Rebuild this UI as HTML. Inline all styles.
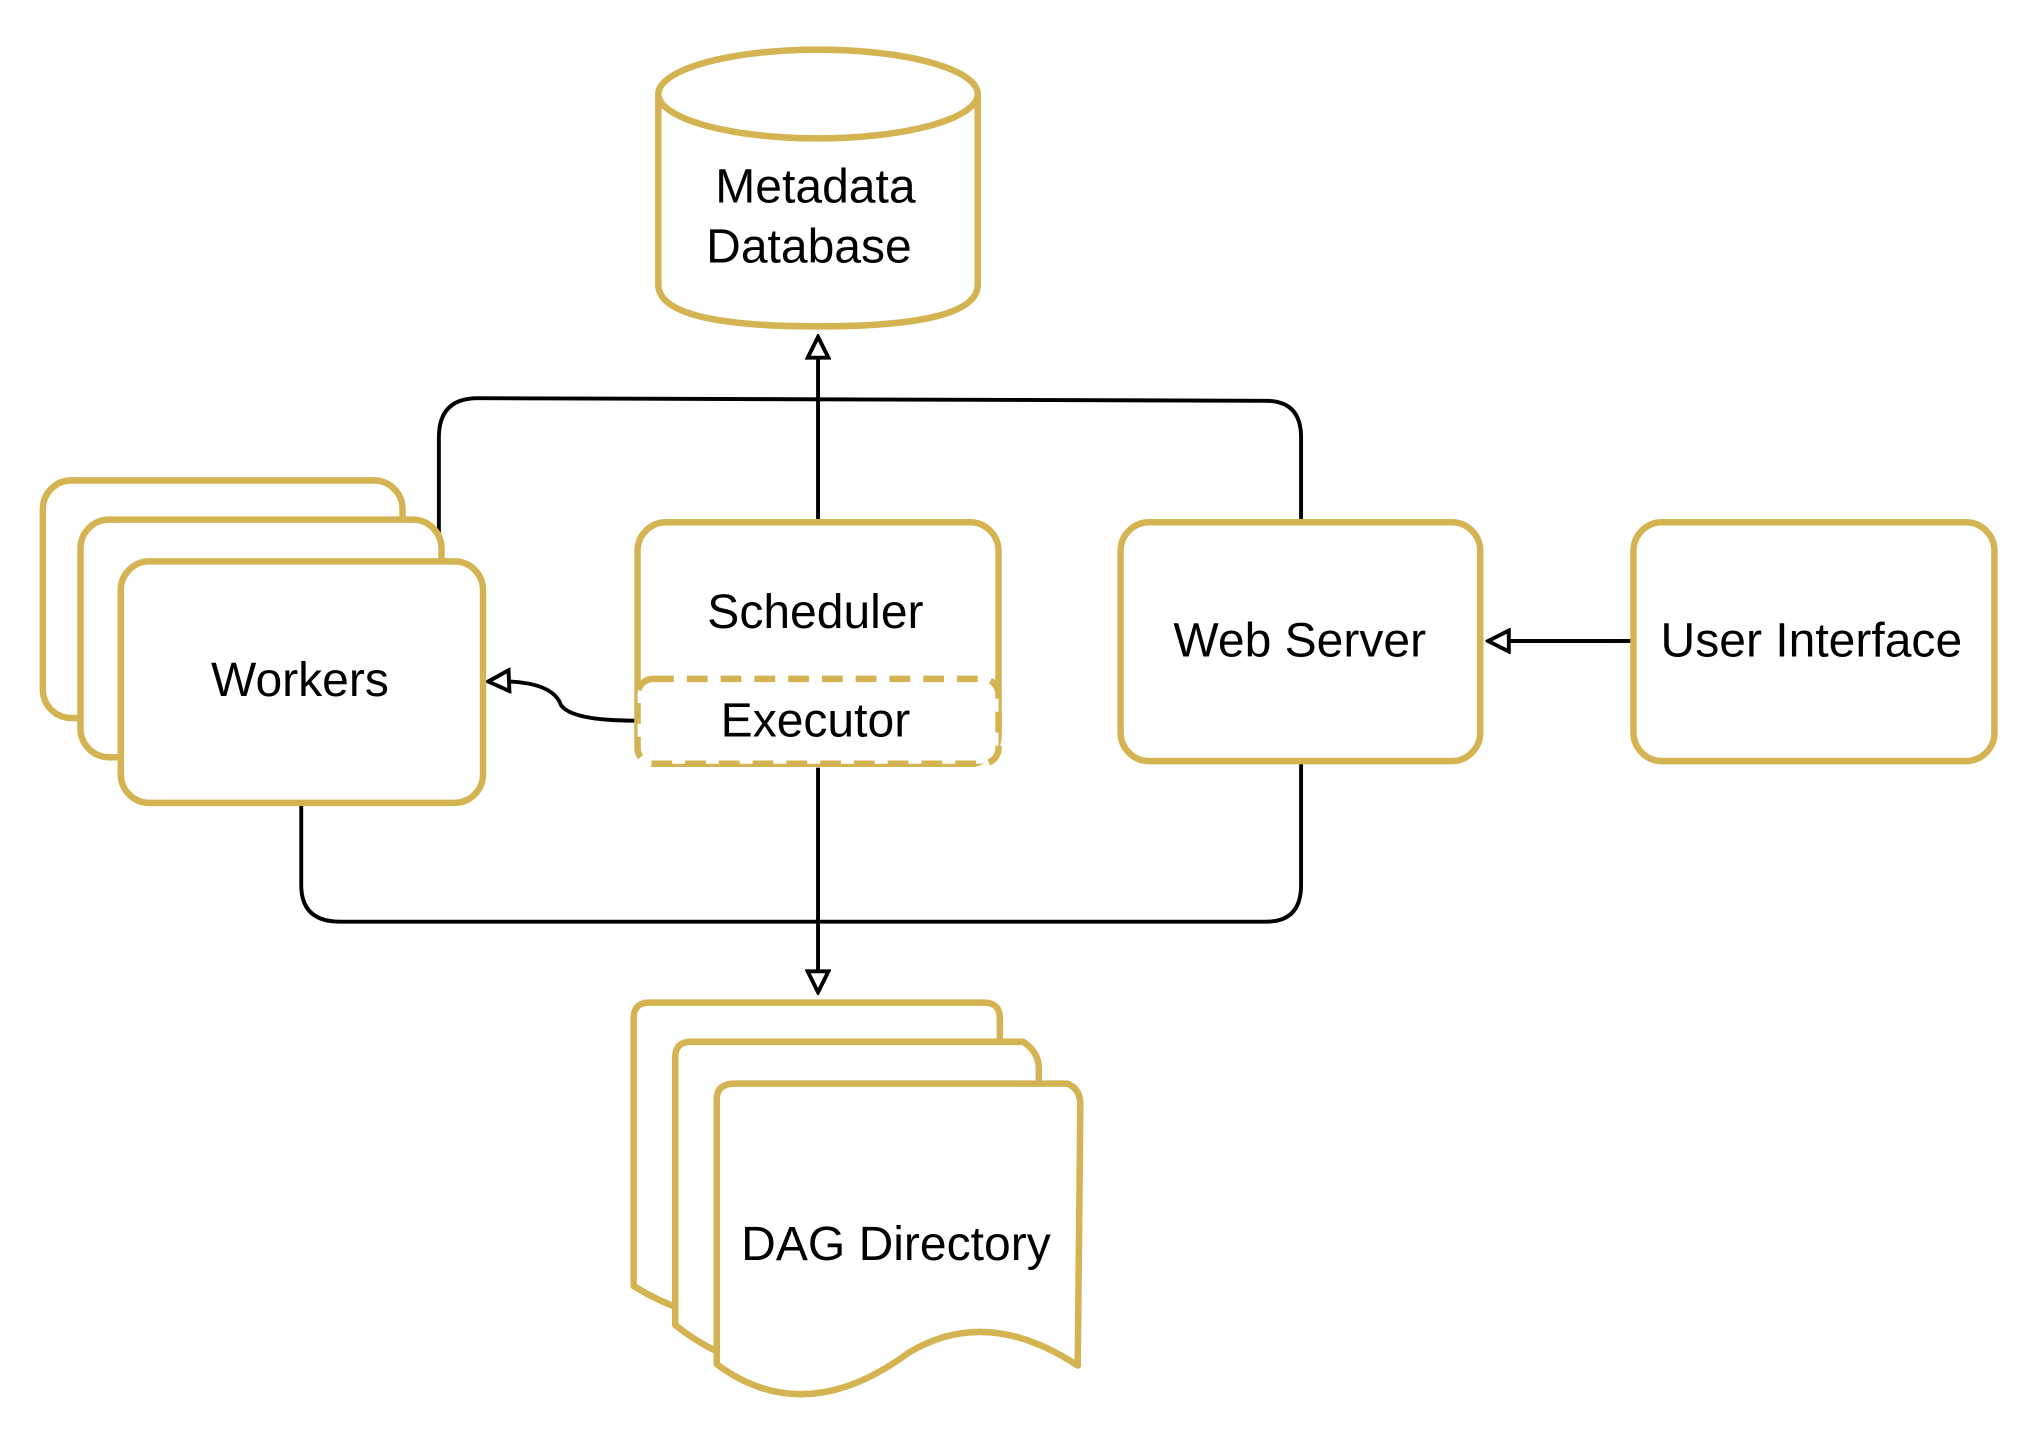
<!DOCTYPE html>
<html><head><meta charset="utf-8"><style>
html,body{margin:0;padding:0;background:#fff;}
svg{display:block;}
text{font-family:"Liberation Sans",sans-serif;font-size:37px;fill:#000;text-anchor:middle;}
</style></head><body>
<svg width="2036" height="1440" viewBox="0 0 1568 1103" preserveAspectRatio="none" xmlns="http://www.w3.org/2000/svg">
<defs>
<marker id="ah" viewBox="0 0 20 20" refX="18" refY="10" markerWidth="20" markerHeight="20" markerUnits="userSpaceOnUse" orient="auto">
<path d="M2,2 L18,10 L2,18 Z" fill="#fff" stroke="#000" stroke-width="3"/>
</marker>
</defs>
<g fill="none" stroke="#000" stroke-width="3">
<path d="M338,410 L338,335 Q338,305 368,305 L975,307 Q1002,307 1002,335 L1002,398"/>
<path d="M232,617 L232,678 Q232,706 262,706 L975,706 Q1002,706 1002,678 L1002,585"/>
<path d="M630,398 L630,258" marker-end="url(#ah)"/>
<path d="M630,588 L630,760" marker-end="url(#ah)"/>
<path d="M490,552 Q440,552 432,540 Q425,520 376,522" marker-end="url(#ah)"/>
<path d="M1257,491 L1146,491" marker-end="url(#ah)"/>
</g>
<g fill="#fff" stroke="#d4b452" stroke-width="5" stroke-linejoin="round">
<path d="M507,72 L507,218 Q507,250 630,250 Q753,250 753,218 L753,72"/>
<ellipse cx="630" cy="72" rx="123" ry="34"/>
<rect x="33" y="368" width="277" height="182" rx="22"/>
<rect x="62" y="398" width="278" height="182" rx="22"/>
<rect x="93" y="430" width="279" height="185" rx="22"/>
<rect x="491" y="400" width="278" height="185" rx="22"/>
<rect x="863" y="400" width="277" height="183" rx="22"/>
<rect x="1258" y="400" width="278" height="183" rx="22"/>
<path d="M488,780 Q488,768 500,768 L758,768 Q770,768 770,780 L770,990 Q700,960 640,995 Q560,1030 488,985 Z"/>
<path d="M520,810 Q520,798 532,798 L788,798 Q800,806 800,818 L800,1030 Q730,1000 670,1035 Q590,1070 520,1015 Z"/>
<path d="M552,842 Q552,830 566,830 L822,830 Q832,834 832,846 L830,1046 Q760,1000 700,1036 Q620,1095 552,1045 Z"/>
</g>
<rect x="491" y="520" width="278" height="65" rx="12" fill="#fff" stroke="#d4b452" stroke-width="5" stroke-dasharray="16,10"/>
<text x="628" y="155">Metadata</text>
<text x="623" y="201">Database</text>
<text x="231" y="533">Workers</text>
<text x="628" y="481">Scheduler</text>
<text x="628" y="564">Executor</text>
<text x="1001" y="503">Web Server</text>
<text x="1395" y="503">User Interface</text>
<text x="690" y="965">DAG Directory</text>
</svg>
</body></html>
